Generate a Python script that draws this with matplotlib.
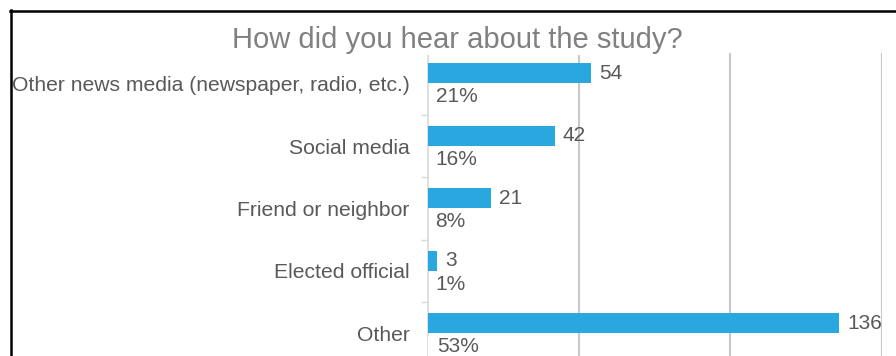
import matplotlib
matplotlib.use("Agg")
import matplotlib.pyplot as plt
from matplotlib.lines import Line2D
import numpy as np

plt.rcParams['font.family'] = ['Liberation Sans', 'DejaVu Sans']

# data
categories = ["Other news media (newspaper, radio, etc.)", "Social media",
              "Friend or neighbor", "Elected official", "Other"]
counts = [54, 42, 21, 3, 136]
shares = [0.21, 0.16, 0.08, 0.01, 0.53]

W, H = 896, 356
fig = plt.figure(figsize=(W / 100, H / 100), dpi=100)

# plot area in pixel coords (top-left origin)
x0, x1 = 427.5, 881.5
y_top, y_bot = 52.5, 364.5
ax = fig.add_axes([x0 / W, 1 - y_bot / H, (x1 - x0) / W, (y_bot - y_top) / H])

blue = '#29A8E0'
grey_txt = '#595959'
grid_c = '#c8c8c8'

y = np.arange(len(categories))
bh = 0.32
b1 = ax.barh(y - 0.165, counts, height=bh, color=blue, zorder=3)
# share series: near-zero bars on the count axis, only their labels show
b2 = ax.barh(y + 0.21, shares, height=bh, color='white', zorder=3)
ax.bar_label(b1, labels=[str(c) for c in counts], padding=6,
             fontsize=15, color=grey_txt)
ax.bar_label(b2, labels=['%d%%' % round(s * 100) for s in shares], padding=5.5,
             fontsize=15, color=grey_txt)

ax.set_xlim(0, 150)
ax.set_ylim(len(categories) - 0.5, -0.5)
ax.set_xticks([50, 100, 150])
ax.xaxis.grid(True, color=grid_c, lw=1.5, zorder=0)
ax.tick_params(axis='x', length=0, labelbottom=False)

ax.set_yticks(y)
ax.set_yticklabels(categories, fontsize=15.2, color=grey_txt)
ax.set_yticks(np.arange(len(categories) + 1) - 0.5, minor=True)
ax.tick_params(axis='y', which='major', length=0, pad=13)
ax.tick_params(axis='y', which='minor', length=5, width=1, color='#d9d9d9')

for s in ['top', 'right', 'bottom']:
    ax.spines[s].set_visible(False)
ax.spines['left'].set_color('#d9d9d9')
ax.spines['left'].set_linewidth(1.2)

fig.text(457.5 / W, 1 - 40 / H, "How did you hear about the study?",
         ha='center', va='center', fontsize=21, color='#808080', zorder=5,
         bbox=dict(facecolor='white', edgecolor='none', pad=1))

# black frame cut at the top and left edges
fig.add_artist(Line2D([10 / W, 1], [1 - 11 / H, 1 - 11 / H], color='black', lw=1.8))
fig.add_artist(Line2D([10.5 / W, 10.5 / W], [1 - 10 / H, 0], color='black', lw=1.8))

fig.savefig('out.png', dpi=100, facecolor='white')
